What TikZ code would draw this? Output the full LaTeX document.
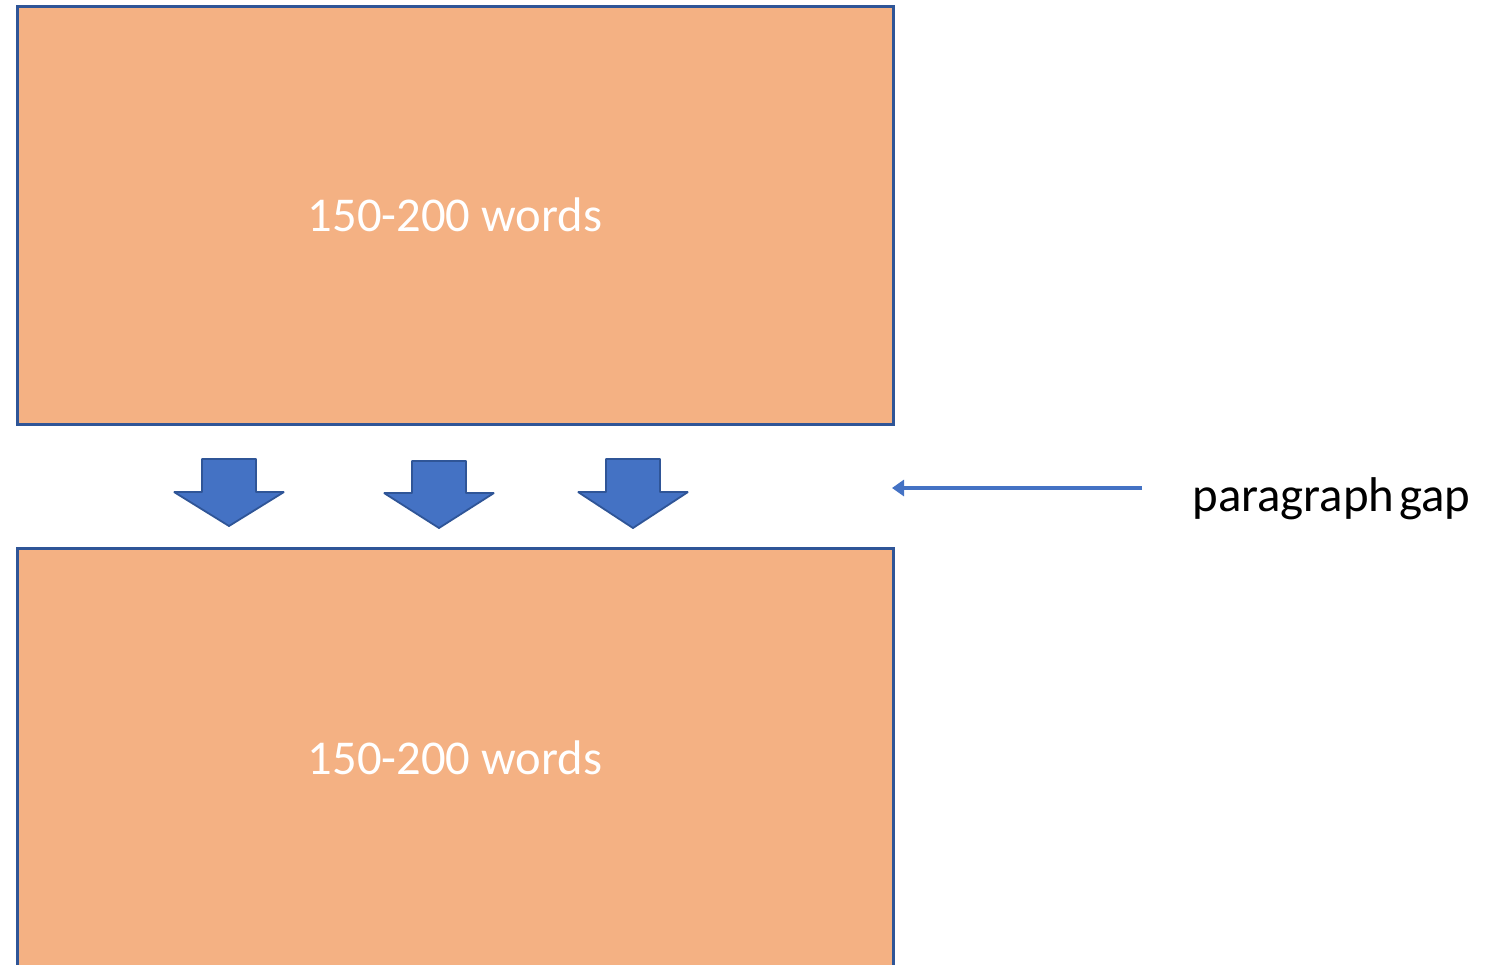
\documentclass[tikz,border=0pt]{standalone}
\usepackage{fontspec}
\setmainfont{Carlito}
\usetikzlibrary{arrows.meta}
\definecolor{boxfill}{HTML}{F4B183}
\definecolor{boxline}{HTML}{2F5597}
\definecolor{arrfill}{HTML}{4472C4}
\tikzset{
  parabox/.style={draw=boxline, line width=1.5pt, fill=boxfill, rectangle,
    minimum width=438pt, minimum height=209pt, inner sep=0pt, outer sep=0pt,
    text=white, font=\fontsize{24.3}{29}\selectfont},
  downarrow/.style={draw=boxline, line width=0.9pt, fill=arrfill, line join=bevel},
  gapline/.style={draw=arrfill, line width=1.7pt, -{Triangle[length=6pt,width=8pt]}},
  gaplabel/.style={font=\fontsize{24.4}{29}\selectfont, inner sep=0pt, anchor=base west}
}
\begin{document}
\begin{tikzpicture}[x=0.5pt,y=-0.5pt]
\useasboundingbox (0,0) rectangle (1496,965);
\node[parabox] (top) at (455,215) {150-200 words};
\node[parabox, minimum height=209.5pt] (bottom) at (455,758) {150-200 words};
% down arrows
\draw[downarrow] (202,459) -- (256,459) -- (256,492) -- (284,492) -- (229,526) -- (174,492) -- (202,492) -- cycle;
\draw[downarrow] (412,461) -- (466,461) -- (466,493) -- (494,493) -- (439,528) -- (384,493) -- (412,493) -- cycle;
\draw[downarrow] (606,459) -- (660,459) -- (660,492) -- (688,492) -- (633,528) -- (578,492) -- (606,492) -- cycle;
% gap pointer
\node[gaplabel] (lbl) at (1192,511) {paragraph\hspace{0.1em}gap};
\coordinate (linestart) at (1142,488);
\coordinate (lineend) at (892,488);
\draw[gapline] (linestart) -- (lineend);
\end{tikzpicture}
\end{document}
